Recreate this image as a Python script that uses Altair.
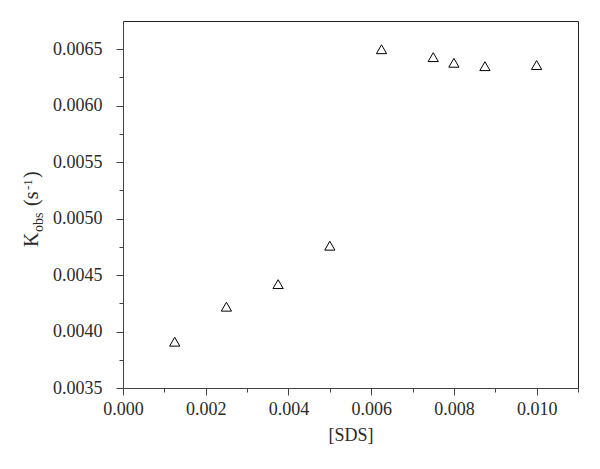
import altair as alt
import pandas as pd

sds = [0.00125, 0.0025, 0.00375, 0.005, 0.00625, 0.0075, 0.008, 0.00875, 0.010]
kobs = [0.00391, 0.00422, 0.00442, 0.00476, 0.00650, 0.00643, 0.00638, 0.00635, 0.00636]

x_major = [0.000, 0.002, 0.004, 0.006, 0.008, 0.010]
x_minor = [0.001, 0.003, 0.005, 0.007, 0.009, 0.011]
y_major = [0.0035, 0.0040, 0.0045, 0.0050, 0.0055, 0.0060, 0.0065]
y_minor = [0.00375, 0.00425, 0.00475, 0.00525, 0.00575, 0.00625]

df = pd.DataFrame({"sds": sds, "kobs": kobs})

FONT = "Liberation Serif"
AX = "#444444"
TXT = "#2a2a2a"

xs = alt.Scale(domain=[0, 0.011], nice=False, zero=False)
ys = alt.Scale(domain=[0.0035, 0.00675], nice=False, zero=False)

points = alt.Chart(df).mark_point(
    shape="triangle-up", size=105, filled=False, stroke="black", strokeWidth=1, opacity=1
).encode(
    x=alt.X("sds:Q", scale=xs, axis=alt.Axis(
        values=x_major, format=".3f", orient="bottom", title="[SDS]",
        tickSize=7, labelPadding=5, titlePadding=8, grid=False,
        labelFlush=False, labelOverlap=False,
        domainColor=AX, tickColor=AX, labelColor=TXT, titleColor=TXT,
        labelFont=FONT, titleFont=FONT, labelFontSize=18, titleFontSize=18,
        titleFontWeight="normal")),
    y=alt.Y("kobs:Q", scale=ys, axis=alt.Axis(
        values=y_major, format=".4f", orient="left", title="",
        tickSize=7, labelPadding=14, grid=False,
        labelFlush=False, labelOverlap=False,
        domainColor=AX, tickColor=AX, labelColor=TXT,
        labelFont=FONT, labelFontSize=18)),
)

minor = alt.Chart(df).mark_point(opacity=0).encode(
    x=alt.X("sds:Q", scale=xs, axis=alt.Axis(
        values=x_minor, orient="bottom", labels=False, domain=False, grid=False,
        tickSize=4, tickColor=AX, title="")),
    y=alt.Y("kobs:Q", scale=ys, axis=alt.Axis(
        values=y_minor, orient="left", labels=False, domain=False, grid=False,
        tickSize=4, tickColor=AX, title="")),
)

one = alt.Data(values=[{"a": 1}])

def piece(text, x, y, size):
    return alt.Chart(one).mark_text(
        angle=270, align="left", baseline="alphabetic", font=FONT,
        fontSize=size, color=TXT
    ).encode(x=alt.value(x), y=alt.value(y), text=alt.value(text))

title_layers = [
    piece("K", -85, 226, 20),
    piece("obs", -80, 211, 14),
    piece("(s", -85, 185, 20),
    piece("-1", -91, 169, 13),
    piece(")", -85, 157, 20),
]

chart = alt.layer(points, minor, *title_layers).resolve_axis(
    x="independent", y="independent"
).properties(
    width=455, height=367,
    autosize=alt.AutoSizeParams(type="none"),
    padding={"left": 115, "top": 13, "right": 14, "bottom": 73},
).configure_view(stroke="#222222", strokeWidth=1)

chart.save("out.html", embed_options={"renderer": "svg", "actions": False})
